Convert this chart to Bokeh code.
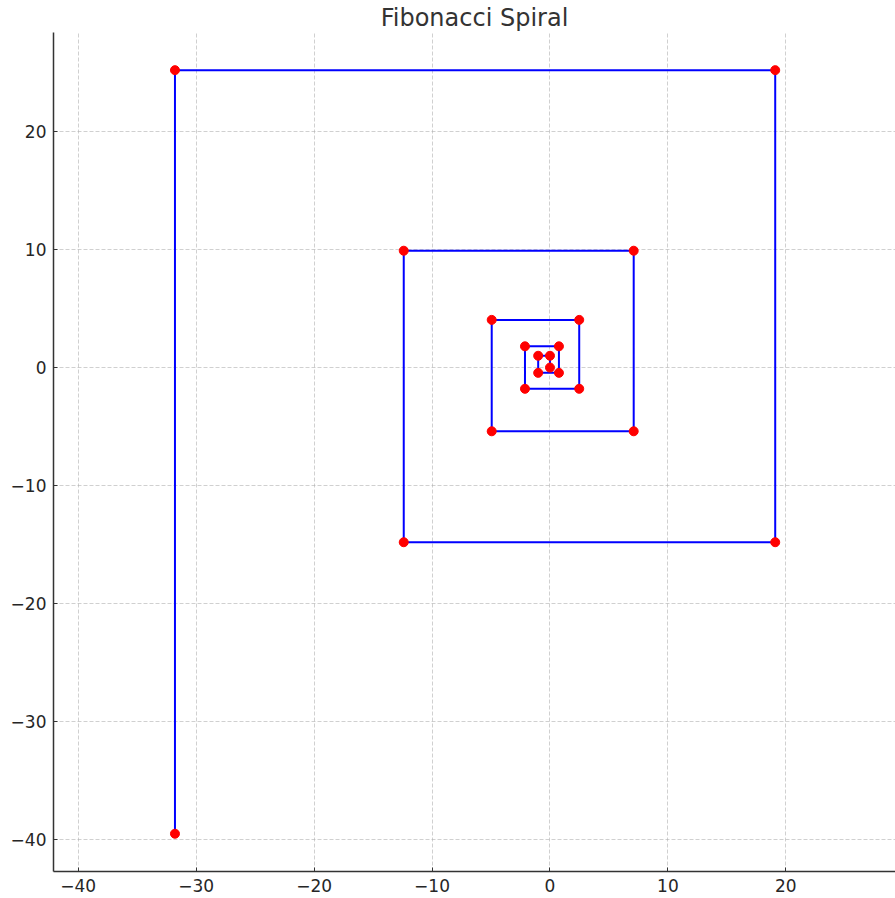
from bokeh.plotting import figure
from bokeh.models import Range1d, FixedTicker, Title
from bokeh.embed import file_html
from bokeh.resources import INLINE

# Spiral vertices (x, y), traced from the centre outwards
spiral_x = [0, 0, -1, -1, 0.76, 0.76, -2.12, -2.12, 2.48, 2.48,
            -4.94, -4.94, 7.1, 7.1, -12.4, -12.4, 19.1, 19.1, -31.8, -31.8]
spiral_y = [0, 1, 1, -0.45, -0.45, 1.8, 1.8, -1.8, -1.8, 4.04,
            4.04, -5.4, -5.4, 9.9, 9.9, -14.8, -14.8, 25.2, 25.2, -39.5]

x_ticks = [-40, -30, -20, -10, 0, 10, 20]
y_ticks = [-40, -30, -20, -10, 0, 10, 20]


def minus_label(v):
    return str(v).replace("-", "\u2212")


p = figure(width=895, height=898, output_backend="svg", toolbar_location=None,
           x_range=Range1d(-42.1, 29.3), y_range=Range1d(-42.7, 28.39),
           min_border_left=53, min_border_right=0, min_border_top=32,
           min_border_bottom=27)

p.title = Title(text="Fibonacci Spiral", align="center", text_font="DejaVu Sans",
                text_font_size="24px", text_font_style="normal",
                text_color="#333333", standoff=1)

p.outline_line_color = None
p.background_fill_color = "white"
p.border_fill_color = "white"

for ax, ticks in ((p.xaxis, x_ticks), (p.yaxis, y_ticks)):
    ax.ticker = FixedTicker(ticks=ticks)
    ax.major_label_overrides = {t: minus_label(t) for t in ticks}
    ax.axis_line_color = "#333333"
    ax.axis_line_width = 1.5
    ax.major_tick_line_color = "#333333"
    ax.major_tick_in = 4
    ax.major_tick_out = 0
    ax.minor_tick_line_color = None
    ax.major_label_text_font = "DejaVu Sans"
    ax.major_label_text_font_size = "17px"
    ax.major_label_text_color = "#262626"
    ax.major_label_standoff = 7

p.grid.grid_line_color = "#b0b0b0"
p.grid.grid_line_alpha = 0.6
p.grid.grid_line_dash = "4 2"
p.grid.grid_line_width = 1

p.line(spiral_x, spiral_y, line_color="#0000ff", line_width=2)
p.scatter(spiral_x, spiral_y, size=9, fill_color="#ff0000", line_color="#ff0000")

open("out.html", "w").write(file_html(p, INLINE))
